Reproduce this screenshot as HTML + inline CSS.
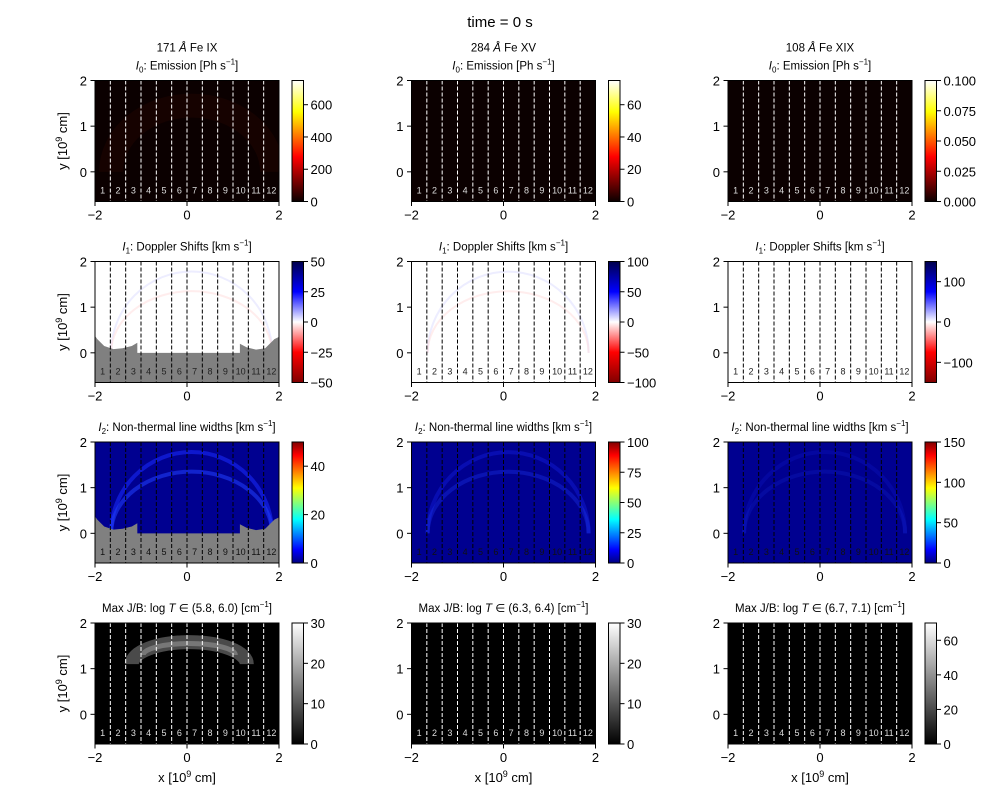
<!DOCTYPE html>
<html><head><meta charset="utf-8"><style>
body{margin:0;background:#fff;}
svg{display:block;font-family:"Liberation Sans","DejaVu Sans",sans-serif;}
</style></head><body>
<svg id="fig" width="1000" height="800" viewBox="0 0 1000 800" xmlns="http://www.w3.org/2000/svg">
<defs>
<linearGradient id="g-hot" x1="0" y1="1" x2="0" y2="0"><stop offset="0" stop-color="#0b0000"/><stop offset="0.37" stop-color="#ff0000"/><stop offset="0.74" stop-color="#ffff00"/><stop offset="1" stop-color="#ffffff"/></linearGradient>
<linearGradient id="g-seis" x1="0" y1="1" x2="0" y2="0"><stop offset="0" stop-color="#800000"/><stop offset="0.25" stop-color="#ff0000"/><stop offset="0.5" stop-color="#ffffff"/><stop offset="0.75" stop-color="#0000ff"/><stop offset="1" stop-color="#00004c"/></linearGradient>
<linearGradient id="g-jet" x1="0" y1="1" x2="0" y2="0"><stop offset="0" stop-color="#000080"/><stop offset="0.11" stop-color="#0000ff"/><stop offset="0.36" stop-color="#00ffff"/><stop offset="0.62" stop-color="#ffff00"/><stop offset="0.89" stop-color="#ff0000"/><stop offset="1" stop-color="#800000"/></linearGradient>
<linearGradient id="g-gray" x1="0" y1="1" x2="0" y2="0"><stop offset="0" stop-color="#000"/><stop offset="1" stop-color="#fff"/></linearGradient>
</defs>
<text x="500" y="27" font-size="15" text-anchor="middle">time = 0 s</text>
</svg>
<script>
const colLeft=[95,411.5,728];
const rowTop=[80.5,261.5,442,623];
const AW=184, AH=121;
const xMin=-2,xMax=2,yMin=-0.65,yMax=2.0;
const xTicks=[-2,0,2];
const yTicks=[0,1,2];
const slitLabels=['1','2','3','4','5','6','7','8','9','10','11','12'];
const lineNames=['171 Å Fe IX','284 Å Fe XV','108 Å Fe XIX'];
const cbMax=[[750,75,0.1],[50,100,150],[50,100,150],[30,30,70]];
const cbMin=[[0,0,0],[-50,-100,-150],[0,0,0],[0,0,0]];
const cbTicks=[
 [[0,200,400,600],[0,20,40,60],[0,0.025,0.05,0.075,0.1]],
 [[-50,-25,0,25,50],[-100,-50,0,50,100],[-100,0,100]],
 [[0,20,40],[0,25,50,75,100],[0,50,100,150]],
 [[0,10,20,30],[0,10,20,30],[0,20,40,60]]];
const cbTickText=[
 [['0','200','400','600'],['0','20','40','60'],['0.000','0.025','0.050','0.075','0.100']],
 [['−50','−25','0','25','50'],['−100','−50','0','50','100'],['−100','0','100']],
 [['0','20','40'],['0','25','50','75','100'],['0','50','100','150']],
 [['0','10','20','30'],['0','10','20','30'],['0','20','40','60']]];
const grads=['g-hot','g-seis','g-jet','g-gray'];
const bgColors=['#0b0000','#ffffff','#000090','#000000'];
const slitColors=['#ffffff','#000000','#000000','#ffffff'];
const labelColors=['#dddddd','#222222','#111111','#dddddd'];
const tempRanges=['(5.8, 6.0)','(6.3, 6.4)','(6.7, 7.1)'];
const maskX=[-2,-1.95,-1.8,-1.6,-1.4,-1.2,-1.08,-1.08,1.15,1.15,1.3,1.5,1.7,1.9,2];
const maskY=[0.37,0.3,0.15,0.08,0.1,0.15,0.22,0,0,0.2,0.12,0.07,0.1,0.3,0.35];

const NS='http://www.w3.org/2000/svg';
const svg=document.getElementById('fig');
function el(t,a,p){const e=document.createElementNS(NS,t);for(const k in a)e.setAttribute(k,a[k]);(p||svg).appendChild(e);return e;}
function txt(x,y,s,a,p){const e=el('text',Object.assign({x:x,y:y},a),p);e.textContent=s;return e;}

for(let r=0;r<4;r++)for(let c=0;c<3;c++){
 const L=colLeft[c],T=rowTop[r];
 const sx=v=>L+(v-xMin)/(xMax-xMin)*AW;
 const sy=v=>T+(yMax-v)/(yMax-yMin)*AH;
 const g=el('g',{});
 
 
 const cid='clip'+r+c;
 const cp=el('clipPath',{id:cid},g);el('rect',{x:L,y:T,width:AW,height:AH},cp);
 const img=el('g',{'clip-path':'url(#'+cid+')'},g);
 
 
 el('rect',{x:L,y:T,width:AW,height:AH,fill:bgColors[r]},img);
 const arc=(ry,w,col,op)=>{
  const cx=sx(0.1),rx=(sx(1.85)-sx(-1.65))/2,ryp=sy(0)-sy(ry);
  el('path',{d:`M${cx-rx},${sy(0)} A${rx},${ryp} 0 0 1 ${cx+rx},${sy(0)}`,fill:'none',stroke:col,'stroke-width':w,opacity:op},img);
 };
 if(r===0&&c===0){arc(1.45,24,'#1e0300',0.6);}
 if(r===1&&c<2){arc(1.78,2,'#dcdcff',0.5);arc(1.35,2,'#ffdcdc',0.5);}
 if(r===2){const o=c===0?0.55:(c===1?0.3:0.15);arc(1.78,4,'#1a2cff',o);arc(1.35,4,'#2040ff',o);}
 if(r===3&&c===0){
  const cx=sx(0.05),rx=(sx(1.3)-sx(-1.2))/2;
  el('path',{d:`M${cx-rx},${sy(1.1)} A${rx},${sy(1.1)-sy(1.58)} 0 0 1 ${cx+rx},${sy(1.1)}`,fill:'none',stroke:'#4a4a4a','stroke-width':14},img);
  el('path',{d:`M${cx-rx*0.8},${sy(1.3)} A${rx*0.8},${sy(1.3)-sy(1.55)} 0 0 1 ${cx+rx*0.8},${sy(1.3)}`,fill:'none',stroke:'#777','stroke-width':5},img);
 }
 if(c===0&&(r===1||r===2)){
  let d='M'+sx(xMin)+','+sy(yMin);
  for(let i=0;i<maskX.length;i++)d+=' L'+sx(maskX[i])+','+sy(maskY[i]);
  d+=' L'+sx(xMax)+','+sy(yMin)+' Z';
  const m=el('path',{d:d,fill:'#808080'},img);
  
  
 }
 for(let k=1;k<12;k++){
  const x=sx(xMin+k*(xMax-xMin)/12);
  const ln=el('line',{x1:x,y1:T,x2:x,y2:T+AH,stroke:slitColors[r],'stroke-width':1,'stroke-dasharray':'4,2'},g);
  
  
 }
 for(let k=0;k<12;k++){
  const x=sx(xMin+(k+0.5)*(xMax-xMin)/12);
  const t=txt(x,T+AH-8,slitLabels[k],{'font-size':9,'text-anchor':'middle',fill:labelColors[r]},g);
  
  
 }
 el('rect',{x:L,y:T,width:AW,height:AH,fill:'none',stroke:'#000','stroke-width':1},g);
 xTicks.forEach((v,i)=>{const x=sx(v);el('line',{x1:x,y1:T+AH,x2:x,y2:T+AH+4.5,stroke:'#000'},g);
  const t=txt(x,T+AH+18,v<0?'−'+(-v):String(v),{'font-size':13,'text-anchor':'middle'},g);
  });
 yTicks.forEach(v=>{const y=sy(v);el('line',{x1:L-4.5,y1:y,x2:L,y2:y,stroke:'#000'},g);
  const t=txt(L-8,y+5,String(v),{'font-size':13,'text-anchor':'end'},g);
  });
 const cx=L+AW/2;
 let tt;
 if(r===0){
  tt=txt(cx,T-29,'',{'font-size':11.5,'text-anchor':'middle'},g);
  const parts=lineNames[c].split(' Å ');
  tt.innerHTML=parts[0]+' <tspan font-style="italic">Å</tspan> '+parts[1];
  const t2=txt(cx,T-11,'',{'font-size':11.5,'text-anchor':'middle'},g);
  t2.innerHTML='<tspan font-style="italic">I</tspan><tspan font-size="8" dy="3">0</tspan><tspan dy="-3">: Emission [Ph s</tspan><tspan font-size="8" dy="-5">−1</tspan><tspan dy="5">]</tspan>';
  
 } else if(r===1){
  tt=txt(cx,T-11,'',{'font-size':11.5,'text-anchor':'middle'},g);
  tt.innerHTML='<tspan font-style="italic">I</tspan><tspan font-size="8" dy="3">1</tspan><tspan dy="-3">: Doppler Shifts [km s</tspan><tspan font-size="8" dy="-5">−1</tspan><tspan dy="5">]</tspan>';
 } else if(r===2){
  tt=txt(cx,T-11,'',{'font-size':11.5,'text-anchor':'middle'},g);
  tt.innerHTML='<tspan font-style="italic">I</tspan><tspan font-size="8" dy="3">2</tspan><tspan dy="-3">: Non-thermal line widths [km s</tspan><tspan font-size="8" dy="-5">−1</tspan><tspan dy="5">]</tspan>';
 } else {
  tt=txt(cx,T-11,'',{'font-size':11.5,'text-anchor':'middle'},g);
  tt.innerHTML='Max J/B: log <tspan font-style="italic">T</tspan> ∈ '+tempRanges[c]+' [cm<tspan font-size="8" dy="-5">−1</tspan><tspan dy="5">]</tspan>';
 }
 
 if(c===0){
  const yl=txt(0,0,'',{'font-size':13,'text-anchor':'middle',transform:`translate(67,${T+AH/2}) rotate(-90)`},g);
  yl.innerHTML='y [10<tspan font-size="9" dy="-5">9</tspan><tspan dy="5"> cm]</tspan>';
  
 }
 if(r===3){
  const xl=txt(cx,T+AH+38,'',{'font-size':13,'text-anchor':'middle'},g);
  xl.innerHTML='x [10<tspan font-size="9" dy="-5">9</tspan><tspan dy="5"> cm]</tspan>';
  
 }
 const CL=L+197,CW=11.5;
 const cb=el('g',{},g);
 
 
 el('rect',{x:CL,y:T,width:CW,height:AH,fill:'url(#'+grads[r]+')',stroke:'#000','stroke-width':1},cb);
 const mn=cbMin[r][c],mx=cbMax[r][c];
 cbTicks[r][c].forEach((v,i)=>{const y=T+AH-(v-mn)/(mx-mn)*AH;
  el('line',{x1:CL+CW,y1:y,x2:CL+CW+4.5,y2:y,stroke:'#000'},cb);
  const t=txt(CL+CW+7,y+5,cbTickText[r][c][i],{'font-size':13},cb);
  });
}
</script>
</body></html>
